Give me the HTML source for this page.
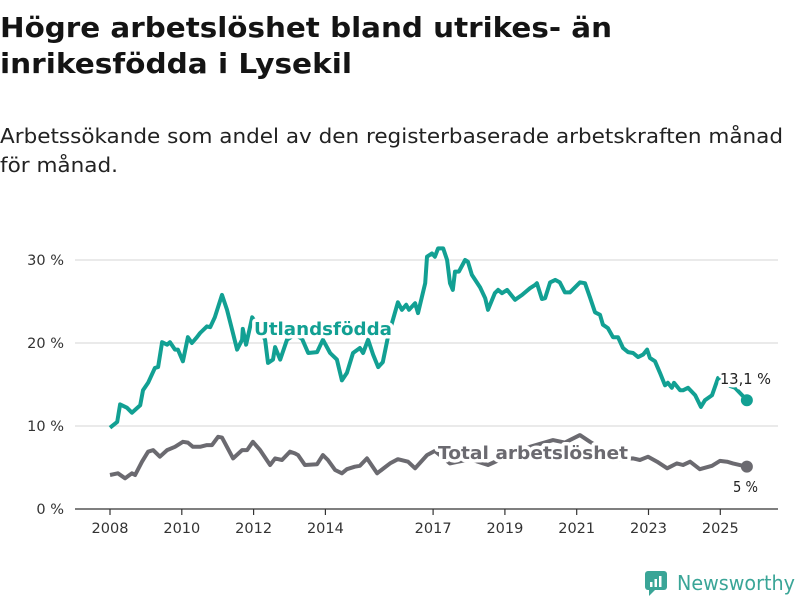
<!DOCTYPE html>
<html><head><meta charset="utf-8"><style>
html,body{margin:0;padding:0;background:#fff;}
svg{display:block;font-family:"DejaVu Sans","Liberation Sans",sans-serif;}
</style></head><body>
<svg id="chart" width="800" height="600" viewBox="0 0 800 600">
<text x="0" y="37" font-size="28" font-weight="bold" fill="#141414" textLength="612" lengthAdjust="spacingAndGlyphs">Högre arbetslöshet bland utrikes- än</text>
<text x="0" y="73" font-size="28" font-weight="bold" fill="#141414" textLength="352" lengthAdjust="spacingAndGlyphs">inrikesfödda i Lysekil</text>
<text x="0" y="143" font-size="20" fill="#222" textLength="783" lengthAdjust="spacingAndGlyphs">Arbetssökande som andel av den registerbaserade arbetskraften månad</text>
<text x="0" y="172" font-size="20" fill="#222" textLength="118" lengthAdjust="spacingAndGlyphs">för månad.</text>
<g id="grid"></g><g id="xaxis"></g><g id="lines"></g><g id="labels"></g>
<g>
<rect x="645" y="571" width="22" height="19" rx="3" fill="#3aa597"/>
<polygon points="649,590 655,590 649,596" fill="#3aa597"/>
<rect x="650" y="582" width="2.5" height="5" fill="#fff"/><rect x="654.5" y="579" width="2.5" height="8" fill="#fff"/><rect x="659" y="576" width="2.5" height="11" fill="#fff"/>
<text x="677" y="590" font-size="20" fill="#3aa597" textLength="118" lengthAdjust="spacingAndGlyphs">Newsworthy</text>
</g>
</svg>
<script>
const NS="http://www.w3.org/2000/svg";
const yTicks=[0,10,20,30];
const yTickLabels=["0 %","10 %","20 %","30 %"];
const xTicks=[2008,2010,2012,2014,2017,2019,2021,2023,2025];
const foreignDates=[2008.0,2008.2,2008.28,2008.47,2008.61,2008.84,2008.92,2009.06,2009.25,2009.34,2009.45,2009.59,2009.67,2009.81,2009.89,2010.03,2010.17,2010.28,2010.42,2010.51,2010.7,2010.79,2010.92,2011.12,2011.26,2011.4,2011.54,2011.68,2011.7,2011.79,2011.96,2012.12,2012.32,2012.4,2012.54,2012.6,2012.74,2012.93,2013.15,2013.35,2013.52,2013.77,2013.93,2014.13,2014.32,2014.46,2014.6,2014.77,2014.96,2015.05,2015.19,2015.33,2015.47,2015.6,2015.74,2015.88,2016.02,2016.13,2016.25,2016.33,2016.5,2016.58,2016.78,2016.83,2016.97,2017.05,2017.14,2017.28,2017.39,2017.47,2017.55,2017.61,2017.72,2017.89,2017.97,2018.08,2018.31,2018.45,2018.53,2018.72,2018.81,2018.92,2019.06,2019.28,2019.48,2019.7,2019.84,2019.89,2020.03,2020.12,2020.26,2020.4,2020.53,2020.67,2020.81,2020.95,2021.09,2021.23,2021.37,2021.51,2021.65,2021.73,2021.87,2022.01,2022.15,2022.29,2022.43,2022.57,2022.71,2022.85,2022.96,2023.04,2023.18,2023.32,2023.46,2023.54,2023.65,2023.71,2023.88,2023.96,2024.1,2024.3,2024.46,2024.57,2024.77,2024.94,2025.16,2025.41,2025.74];
const foreignValues=[9.8,10.5,12.6,12.2,11.6,12.5,14.3,15.2,17.0,17.1,20.1,19.8,20.1,19.2,19.2,17.8,20.7,20.0,20.7,21.2,22.0,21.9,23.1,25.8,24.0,21.6,19.2,20.4,21.7,19.8,23.1,22.0,20.4,17.6,18.0,19.5,18.0,20.4,21.0,20.5,18.8,18.9,20.4,18.8,18.0,15.5,16.4,18.8,19.4,18.8,20.4,18.6,17.1,17.7,20.7,22.8,24.9,24.0,24.6,24.0,24.8,23.6,27.2,30.4,30.8,30.4,31.4,31.4,30.0,27.2,26.4,28.6,28.6,30.0,29.8,28.2,26.7,25.4,24.0,26.0,26.4,26.0,26.4,25.2,25.8,26.6,27.0,27.2,25.3,25.4,27.3,27.6,27.3,26.1,26.1,26.7,27.3,27.2,25.5,23.7,23.4,22.2,21.8,20.7,20.7,19.4,18.9,18.8,18.3,18.6,19.2,18.2,17.8,16.4,14.9,15.2,14.6,15.2,14.3,14.3,14.6,13.7,12.3,13.1,13.7,15.8,15.0,14.6,13.1];
const totalDates=[2008.0,2008.22,2008.42,2008.61,2008.7,2008.89,2009.06,2009.2,2009.39,2009.59,2009.81,2010.03,2010.17,2010.31,2010.51,2010.7,2010.84,2011.01,2011.12,2011.43,2011.68,2011.82,2011.98,2012.18,2012.46,2012.6,2012.79,2013.01,2013.15,2013.24,2013.43,2013.77,2013.93,2014.07,2014.27,2014.46,2014.6,2014.82,2014.96,2015.16,2015.44,2015.8,2016.02,2016.3,2016.5,2016.83,2017.05,2017.47,2018.03,2018.53,2019.14,2019.7,2020.34,2020.67,2021.09,2021.37,2021.79,2022.21,2022.57,2022.76,2022.99,2023.24,2023.52,2023.79,2023.96,2024.16,2024.43,2024.77,2024.99,2025.19,2025.35,2025.74];
const totalValues=[4.1,4.3,3.7,4.3,4.1,5.7,6.9,7.1,6.3,7.1,7.5,8.1,8.0,7.5,7.5,7.7,7.7,8.7,8.6,6.1,7.1,7.1,8.1,7.1,5.3,6.1,5.9,6.9,6.7,6.5,5.3,5.4,6.5,5.9,4.7,4.3,4.8,5.1,5.2,6.1,4.3,5.5,6.0,5.7,4.9,6.5,7.0,5.5,6.0,5.3,6.5,7.5,8.3,8.0,8.9,8.1,7.0,6.0,6.1,5.9,6.3,5.7,4.9,5.5,5.3,5.7,4.8,5.2,5.8,5.7,5.5,5.1];
const x=t=>110+(t-2008)*35.9;
const y=v=>509-v*8.3;
function mk(tag,attrs,parent){const e=document.createElementNS(NS,tag);for(const k in attrs)e.setAttribute(k,attrs[k]);parent.appendChild(e);return e;}
const grid=document.getElementById('grid');
yTicks.forEach((v,i)=>{
 const l=mk('line',{x1:75,x2:778,y1:y(v),y2:y(v),stroke:v===0?'#333':'#ddd','stroke-width':1.3},grid);
 
 
 const t=mk('text',{x:64,y:y(v)+5,'text-anchor':'end','font-size':14.5,fill:'#333'},grid);
 t.textContent=yTickLabels[i];
 
 
});
const xa=document.getElementById('xaxis');
xTicks.forEach(yr=>{
 const l=mk('line',{x1:x(yr),x2:x(yr),y1:509,y2:515,stroke:'#333','stroke-width':1.2},xa);
 
 
 const t=mk('text',{x:x(yr),y:533,'text-anchor':'middle','font-size':14.5,fill:'#333'},xa);
 t.textContent=String(yr);
 
 
});
const lines=document.getElementById('lines');
function series(dates,vals,color,name){
 const d=dates.map((t,i)=>(i?'L':'M')+x(t).toFixed(1)+','+y(vals[i]).toFixed(1)).join('');
 const p=mk('path',{d:d,fill:'none',stroke:color,'stroke-width':4,'stroke-linejoin':'round'},lines);
 
 
 const n=dates.length-1;
 const c=mk('circle',{cx:x(dates[n]),cy:y(vals[n]),r:6,fill:color},lines);
 
 
}
series(totalDates,totalValues,'#6b6a70','total');
series(foreignDates,foreignValues,'#12a093','foreign-born');
const lb=document.getElementById('labels');
function label(txt,tx,ty,size,weight,color,len,name){
 const t=mk('text',{x:tx,y:ty,'font-size':size,'font-weight':weight,fill:color,stroke:'#fff','stroke-width':7,'paint-order':'stroke','stroke-linejoin':'round',textLength:len,lengthAdjust:'spacingAndGlyphs'},lb);
 t.textContent=txt;
 
 
}
label('Utlandsfödda',254,335,18,'bold','#12a093',138,'series-label-foreign-born');
label('Total arbetslöshet',438,459,18,'bold','#6b6a70',190,'series-label-total');
const fn=foreignValues.length-1, tn=totalValues.length-1;
label(foreignValues[fn].toFixed(1).replace('.',',')+' %',720,384,15,'normal','#222',51,'value-label-foreign-born');
label(Math.round(totalValues[tn])+' %',733,492,15,'normal','#222',25,'value-label-total');
</script>
</body></html>
